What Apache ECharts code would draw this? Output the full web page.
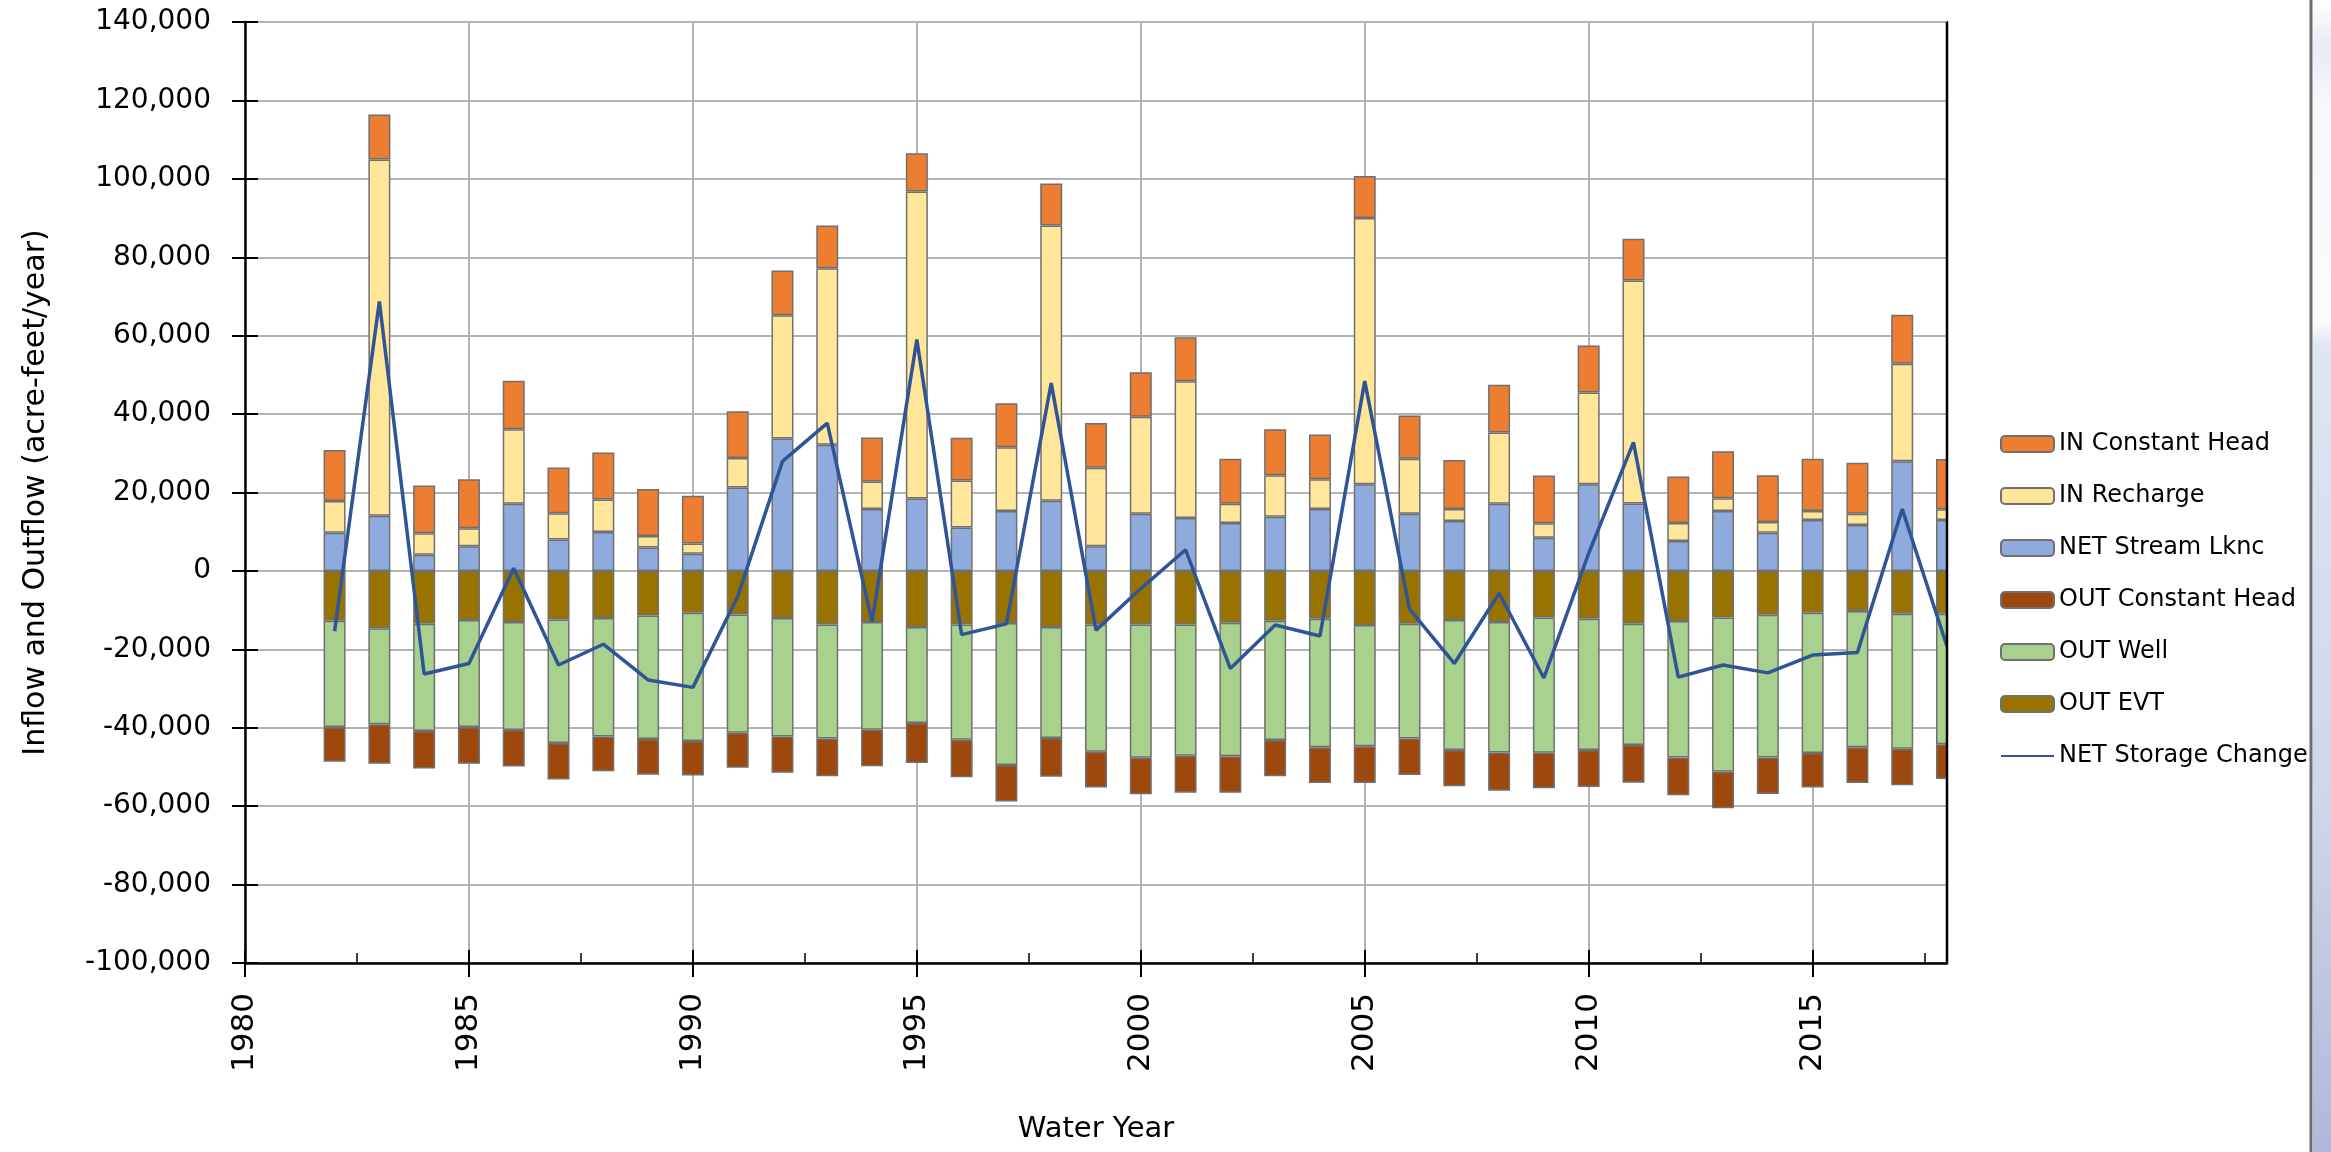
<!DOCTYPE html>
<html>
<head>
<meta charset="utf-8">
<script src="https://cdn.jsdelivr.net/npm/echarts@6/dist/echarts.min.js"></script>
<style>
  html, body { margin: 0; padding: 0; background: #fff; }
  #chart { width: 2331px; height: 1152px; }
</style>
</head>
<body>
<div id="chart"></div>
<script>
// water years (one bar per year)
const years = [1982, 1983, 1984, 1985, 1986, 1987, 1988, 1989, 1990, 1991, 1992,
  1993, 1994, 1995, 1996, 1997, 1998, 1999, 2000, 2001, 2002, 2003, 2004, 2005,
  2006, 2007, 2008, 2009, 2010, 2011, 2012, 2013, 2014, 2015, 2016, 2017, 2018]

// slots of the hidden category axis used to place the stacked bars (1980..2018)
const yearSlots = ['1980', '1981'].concat(years.map(String))

// inflows (acre-feet/year)
const inConstantHead = [13000, 11500, 12200, 12500, 12400, 11700, 12000, 12000, 12200, 11900, 11400,
  10900, 11200, 9750, 10900, 11200, 10700, 11400, 11400, 11200, 11500, 11700, 11400, 10700,
  11050, 12500, 12200, 12200, 12000, 10600, 11900, 12000, 11900, 13300, 13000, 12500, 12800]
const inRecharge = [8100, 90800, 5500, 4600, 19000, 6700, 8300, 2900, 2600, 7500, 31400,
  45000, 7000, 78300, 12000, 16250, 70200, 20000, 24700, 34900, 4900, 10600, 7600, 67900,
  14000, 3100, 18200, 3700, 23400, 56900, 4550, 3250, 2750, 2300, 2900, 24900, 2750]
const netStreamLknc = [9750, 14100, 4100, 6300, 17100, 8000, 9900, 6000, 4400, 21300, 33800,
  32200, 15800, 18500, 11050, 15300, 17900, 6300, 14600, 13500, 12200, 13800, 15800, 22100,
  14600, 12700, 17100, 8450, 22100, 17200, 7650, 15300, 9750, 13000, 11700, 27950, 13000]

// outflows (negative)
const outEVT = [-12700, -14600, -13500, -12500, -13000, -12400, -12000, -11400, -10700, -11100, -12000,
  -13650, -13000, -14300, -13650, -13300, -14300, -13650, -13650, -13650, -13200, -12700, -12200, -13800,
  -13500, -12500, -13000, -11900, -12200, -13500, -12800, -11900, -11200, -10700, -10200, -10900, -10900]
const outWell = [-27100, -24500, -27300, -27300, -27600, -31500, -30200, -31500, -32700, -30200, -30200,
  -29100, -27500, -24500, -29400, -36200, -28300, -32500, -34000, -33500, -34100, -30400, -32800, -30900,
  -29250, -33150, -33300, -34450, -33500, -30900, -34800, -39300, -36400, -35750, -34800, -34450, -33300]
const outConstantHead = [-8900, -10100, -9600, -9400, -9300, -9300, -8900, -9100, -8800, -8900, -9300,
  -9600, -9300, -10200, -9600, -9300, -9900, -9100, -9300, -9400, -9300, -9300, -9100, -9400,
  -9300, -9300, -9750, -9100, -9400, -9600, -9600, -9300, -9300, -8800, -9100, -9300, -8900]

// net storage change line
const netStorage = [-15400, 68700, -26300, -23600, 700, -24000, -18700, -27800, -29700, -6500, 27950,
  37700, -13000, 59000, -16250, -13500, 47900, -15100, -4500, 5400, -24900, -13800, -16600, 48400,
  -9750, -23600, -5700, -27300, 4500, 32800, -27100, -24000, -26000, -21450, -20800, 15800, -19200]

const legendOrder = ['IN Constant Head', 'IN Recharge', 'NET Stream Lknc',
  'OUT Constant Head', 'OUT Well', 'OUT EVT', 'NET Storage Change']

const FONT = 'DejaVu Sans'

function barSeries(name, arr, color) {
  return {
    name: name,
    type: 'bar',
    stack: 'total',
    xAxisIndex: 2,
    barWidth: 22,
    clip: true,
    data: years.map((y, i) => [String(y), arr[i]]),
    itemStyle: {
      color: color,
      borderColor: '#707070',
      borderWidth: 1.5
    }
  }
}

const chart = echarts.init(document.getElementById('chart'))

const option = {
  animation: false,
  backgroundColor: '#fff',
  textStyle: { fontFamily: FONT, color: '#000' },
  grid: {
    left: 245,
    top: 22,
    right: 384,
    bottom: 189,
    show: true,
    borderColor: '#000',
    borderWidth: 2,
    backgroundColor: 'transparent'
  },
  legend: {
    orient: 'vertical',
    left: 1995,
    top: 426,
    itemWidth: 53,
    itemHeight: 16,
    itemGap: 26,
    data: legendOrder.map(n => n === 'NET Storage Change'
      ? { name: n, itemStyle: { opacity: 0 } }
      : n),
    textStyle: { fontFamily: FONT, fontSize: 24, color: '#000', lineHeight: 26 }
  },
  xAxis: [
    {
      type: 'value',
      min: 1980,
      max: 2018,
      interval: 5,
      name: 'Water Year',
      nameLocation: 'middle',
      nameGap: 152,
      nameTextStyle: { fontFamily: FONT, fontSize: 29, color: '#000' },
      axisLine: { show: true, onZero: false, lineStyle: { color: '#000', width: 2.5 } },
      axisTick: { show: true, inside: false, length: 14, lineStyle: { color: '#000', width: 2 } },
      minorTick: { show: false },
      axisLabel: {
        rotate: 90,
        margin: 30,
        showMaxLabel: false,
        fontFamily: FONT,
        fontSize: 31,
        color: '#000',
        formatter: v => String(v)
      },
      splitLine: { show: true, lineStyle: { color: '#b3b3b3', width: 2 } }
    },
    {
      // overlay axis: inner half of the ticks plus minor ticks
      type: 'value',
      position: 'bottom',
      min: 1980,
      max: 2018,
      interval: 5,
      axisLine: { show: false, onZero: false },
      axisTick: { show: true, inside: true, length: 13, lineStyle: { color: '#000', width: 2 } },
      minorTick: { show: true, splitNumber: 2, length: 10, lineStyle: { color: '#000', width: 1.5 } },
      axisLabel: { show: false },
      splitLine: { show: false }
    },
    {
      // hidden category axis that places the stacked bars on the year positions
      type: 'category',
      position: 'bottom',
      data: yearSlots,
      boundaryGap: false,
      show: false,
      axisLine: { onZero: false }
    }
  ],
  yAxis: [
    {
      type: 'value',
      min: -100000,
      max: 140000,
      interval: 20000,
      name: 'Inflow and Outflow (acre-feet/year)',
      nameLocation: 'middle',
      nameGap: 194,
      nameTextStyle: { fontFamily: FONT, fontSize: 30, color: '#000' },
      axisLine: { show: true, onZero: false, lineStyle: { color: '#000', width: 2.5 } },
      axisTick: { show: true, inside: false, length: 13, lineStyle: { color: '#000', width: 2 } },
      axisLabel: {
        margin: 34,
        fontFamily: FONT,
        fontSize: 28,
        color: '#000',
        formatter: v => v.toLocaleString('en-US')
      },
      splitLine: { show: true, lineStyle: { color: '#b3b3b3', width: 2 } }
    },
    {
      type: 'value',
      position: 'left',
      min: -100000,
      max: 140000,
      interval: 20000,
      axisLine: { show: false, onZero: false },
      axisTick: { show: true, inside: true, length: 13, lineStyle: { color: '#000', width: 2 } },
      axisLabel: { show: false },
      splitLine: { show: false }
    }
  ],
  series: [
    barSeries('NET Stream Lknc', netStreamLknc, '#8faadc'),
    barSeries('IN Recharge', inRecharge, '#ffe699'),
    barSeries('IN Constant Head', inConstantHead, '#ed7d31'),
    barSeries('OUT EVT', outEVT, '#997300'),
    barSeries('OUT Well', outWell, '#a9d18e'),
    barSeries('OUT Constant Head', outConstantHead, '#9e480e'),
    {
      name: 'NET Storage Change',
      type: 'line',
      xAxisIndex: 0,
      data: years.map((y, i) => [y, netStorage[i]]),
      symbol: 'none',
      showSymbol: false,
      z: 5,
      lineStyle: { color: '#2f5597', width: 3.5 },
      itemStyle: { color: '#2f5597' }
    }
  ],
  graphic: [
    {
      // white cover hiding the half of the 2018 bar that falls outside the plot
      type: 'rect',
      z: 50,
      shape: { x: 1948, y: 300, width: 20, height: 600 },
      style: { fill: '#ffffff' }
    },
    {
      type: 'line',
      z: 51,
      shape: { x1: 1947, y1: 22, x2: 1947, y2: 963 },
      style: { stroke: '#000', lineWidth: 2.5 }
    },
    {
      type: 'rect',
      shape: { x: 2313, y: 0, width: 18, height: 1152 },
      style: {
        fill: new echarts.graphic.LinearGradient(0, 0, 0, 1, [
          { offset: 0, color: '#ffffff' },
          { offset: 0.04, color: '#e8ebf5' },
          { offset: 0.09, color: '#f7f8fc' },
          { offset: 0.28, color: '#fbfbfd' },
          { offset: 0.3, color: '#dfe5f2' },
          { offset: 0.7, color: '#cfd6ea' },
          { offset: 1, color: '#aeb8da' }
        ])
      }
    },
    {
      type: 'line',
      shape: { x1: 2311, y1: 0, x2: 2311, y2: 1152 },
      style: { stroke: '#6e6e6e', lineWidth: 3 }
    }
  ]
}

chart.setOption(option)
</script>
</body>
</html>
